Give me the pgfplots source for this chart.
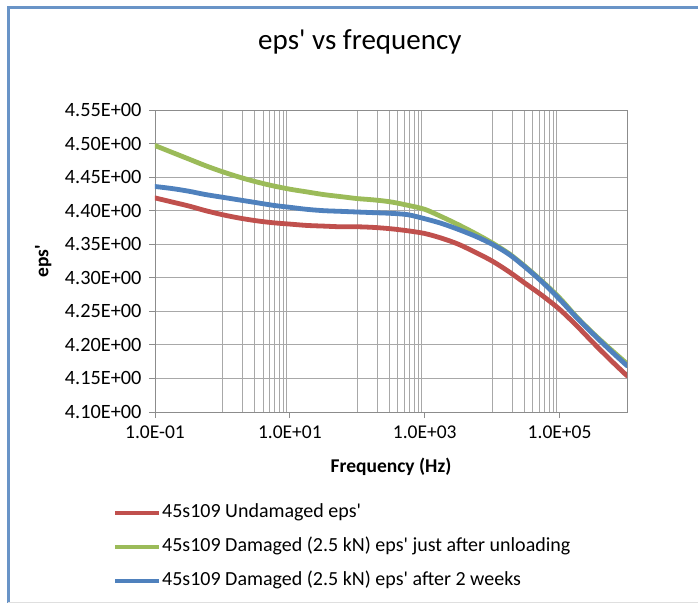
\documentclass[border=0pt]{standalone}
\usepackage{pgfplots}
\pgfplotsset{compat=1.18}
\usepackage{fontspec}
\setmainfont{Carlito}[Ligatures=TeXOff]
\definecolor{exred}{HTML}{C0504D}
\definecolor{exgreen}{HTML}{9BBB59}
\definecolor{exblue}{HTML}{4F81BD}
\definecolor{gridc}{HTML}{A8A8A8}
\definecolor{axc}{HTML}{8C8C8C}

\pgfplotstableread{
f          green  blue   red
0.1        4.497  4.436  4.419
0.177828   4.487  4.433  4.413
0.316228   4.477  4.429  4.407
0.562341   4.467  4.424  4.400
1          4.458  4.420  4.394
1.778279   4.450  4.416  4.389
3.162278   4.443  4.412  4.385
5.623413   4.437  4.408  4.382
10         4.432  4.405  4.380
17.78279   4.428  4.402  4.378
31.62278   4.424  4.400  4.377
56.23413   4.421  4.399  4.376
100        4.418  4.398  4.376
177.8279   4.416  4.397  4.375
316.2278   4.413  4.396  4.373
562.3413   4.408  4.394  4.370
1000       4.402  4.388  4.366
1778.279   4.391  4.381  4.359
3162.278   4.379  4.372  4.350
5623.413   4.366  4.362  4.338
10000      4.352  4.350  4.325
17782.79   4.336  4.335  4.309
31622.78   4.316  4.315  4.291
56234.13   4.294  4.293  4.273
100000     4.270  4.268  4.253
177827.9   4.242  4.241  4.229
316227.8   4.217  4.216  4.203
562341.3   4.194  4.192  4.178
1000000    4.172  4.169  4.154
}\epsdata

\begin{document}
\begin{tikzpicture}
\useasboundingbox (0,0) rectangle (698bp,608bp);
\fill[white] (0,0) rectangle (698bp,608bp);
\draw[exblue!85, line width=3bp] (8bp,5bp) -- (8bp,600bp) -- (698bp,600bp);
\draw[gray!25, line width=1bp] (8bp,5bp) -- (698bp,5bp);
\begin{axis}[
  at={(155bp,196bp)}, anchor=south west,
  scale only axis, width=472bp, height=302bp,
  xmode=log, xmin=0.1, xmax=1e6, ymin=4.10, ymax=4.55,
  font=\fontsize{19.5bp}{23bp}\selectfont,
  axis line style={axc, line width=0.8bp},
  tick style={axc, line width=0.8bp},
  tick align=outside, xtick pos=bottom, ytick pos=left,
  major tick length=6bp, minor tick length=0pt,
  xtick={0.1,10,1000,100000},
  xticklabels={1.0E-01,1.0E+01,1.0E+03,1.0E+05},
  minor xtick={1,2,3,4,5,6,7,8,9,100,200,300,400,500,600,700,800,900,10000,20000,30000,40000,50000,60000,70000,80000,90000},
  xminorgrids=true, xmajorgrids=false,
  ytick={4.10,4.15,4.20,4.25,4.30,4.35,4.40,4.45,4.50,4.55},
  yticklabels={4.10E+00,4.15E+00,4.20E+00,4.25E+00,4.30E+00,4.35E+00,4.40E+00,4.45E+00,4.50E+00,4.55E+00},
  ymajorgrids=true,
  grid style={gridc, line width=0.8bp},
  minor grid style={gridc, line width=0.8bp},
  yticklabel style={anchor=east, xshift=-4bp, font=\fontsize{20.3bp}{23bp}\selectfont},
  xticklabel style={yshift=-4bp},
  title={eps' vs frequency},
  title style={font=\fontsize{29bp}{34bp}\selectfont, at={(rel axis cs:0.434,1.205)}, anchor=center},
  xlabel={\bfseries Frequency (Hz)},
  xlabel style={at={(rel axis cs:0.5,-0.182)}, anchor=center},
  ylabel={\bfseries eps'},
  ylabel style={at={(rel axis cs:-0.237,0.5)}, anchor=center},
  legend cell align=left,
  legend style={draw=none, fill=none, at={(rel axis cs:-0.089,-0.30)}, anchor=north west,
    inner sep=0pt, row sep=14bp,
    nodes={inner sep=0.5bp, text height=14bp, text depth=5bp},
    font=\fontsize{20bp}{23bp}\selectfont},
  legend image code/.code={\draw[#1, line width=4.5bp, line cap=butt] (0bp,0bp) -- (44bp,0bp);},
  every axis plot/.append style={line width=4.8bp, line cap=round, line join=round, smooth, no markers},
]
\addplot[exred] table[x=f, y=red] {\epsdata};
\addlegendentry{45s109 Undamaged eps'}
\addplot[exgreen] table[x=f, y=green] {\epsdata};
\addlegendentry{45s109 Damaged (2.5 kN) eps' just after unloading}
\addplot[exblue] table[x=f, y=blue] {\epsdata};
\addlegendentry{45s109 Damaged (2.5 kN) eps' after 2 weeks}
\end{axis}
\end{tikzpicture}
\end{document}
